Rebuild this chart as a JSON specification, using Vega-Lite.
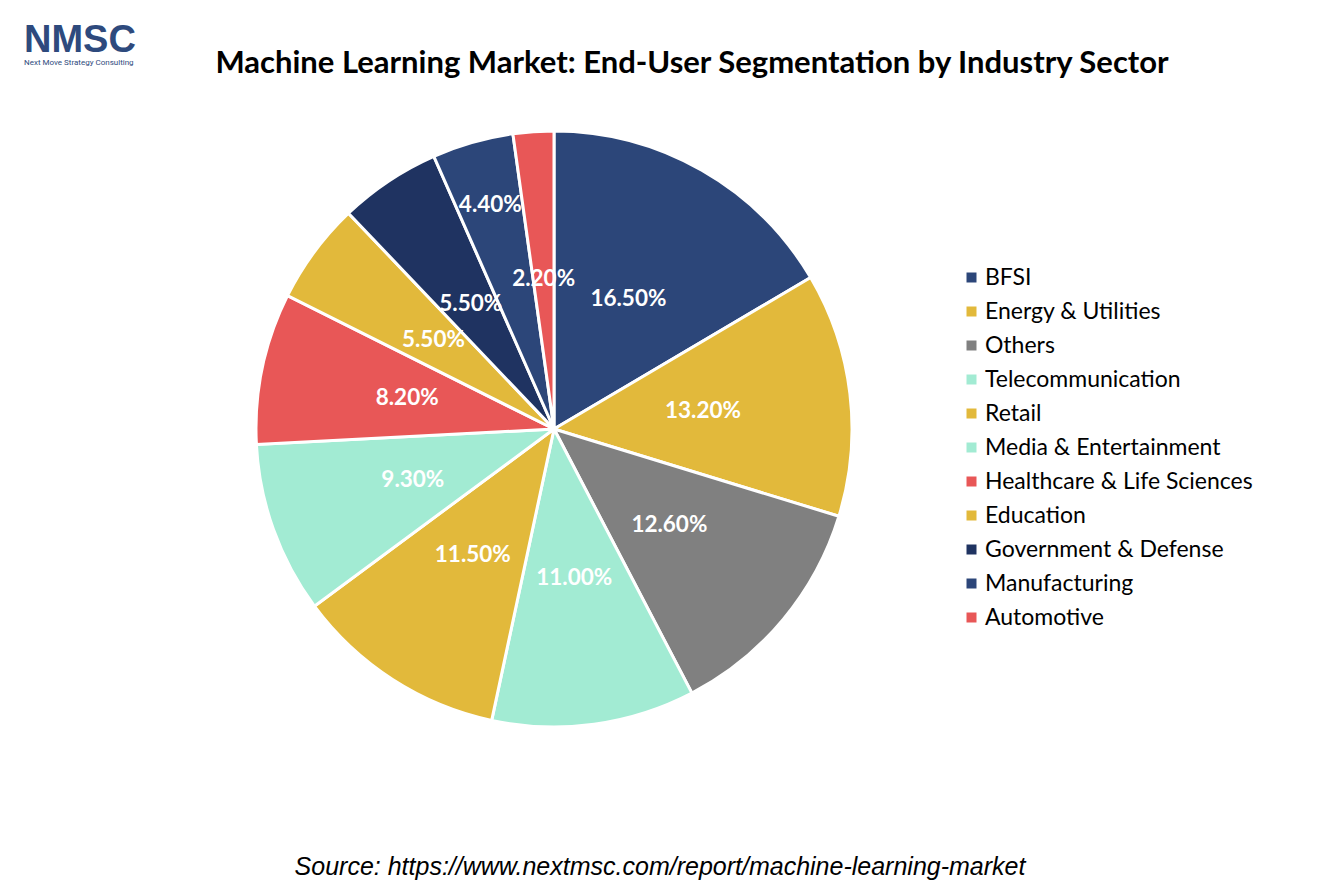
{
  "$schema": "https://vega.github.io/schema/vega-lite/v6.json",
  "description": "Machine learning market share by end-user industry sector",
  "background": "white",
  "padding": {"top": 22, "left": 5, "right": 5, "bottom": 5},
  "config": {"view": {"stroke": null}},
  "title": {
    "text": "Source: https://www.nextmsc.com/report/machine-learning-market",
    "orient": "bottom",
    "anchor": "middle",
    "font": "Liberation Sans",
    "fontStyle": "italic",
    "fontWeight": "normal",
    "fontSize": 25,
    "color": "#000000",
    "offset": 98,
    "dx": 31
  },
  "vconcat": [
    {
      "title": {
        "text": "NMSC",
        "subtitle": "Next Move Strategy Consulting",
        "orient": "top",
        "anchor": "start",
        "font": "Liberation Sans",
        "fontWeight": "bold",
        "fontSize": 38,
        "color": "#2E4A7D",
        "subtitleFont": "Roboto",
        "subtitleFontSize": 8,
        "subtitleColor": "#2E4A7D",
        "subtitlePadding": -1,
        "offset": -19,
        "dx": 19
      },
      "vconcat": [
        {
          "width": 1098,
          "height": 656,
          "title": {
            "text": "Machine Learning Market: End-User Segmentation by Industry Sector",
            "anchor": "middle",
            "font": "Lato",
            "fontWeight": "bold",
            "fontSize": 31,
            "color": "#000000",
            "offset": 10,
            "dx": 138,
            "dy": -11
          },
          "data": {
            "values": [
              {"rank": 1, "sector": "BFSI", "share": 0.165},
              {"rank": 2, "sector": "Energy & Utilities", "share": 0.132},
              {"rank": 3, "sector": "Others", "share": 0.126},
              {"rank": 4, "sector": "Telecommunication", "share": 0.11},
              {"rank": 5, "sector": "Retail", "share": 0.115},
              {"rank": 6, "sector": "Media & Entertainment", "share": 0.093},
              {"rank": 7, "sector": "Healthcare & Life Sciences", "share": 0.082},
              {"rank": 8, "sector": "Education", "share": 0.055},
              {"rank": 9, "sector": "Government & Defense", "share": 0.055},
              {"rank": 10, "sector": "Manufacturing", "share": 0.044},
              {"rank": 11, "sector": "Automotive", "share": 0.022}
            ]
          },
          "encoding": {
            "theta": {"field": "share", "type": "quantitative", "stack": true},
            "order": {"field": "rank", "type": "quantitative"}
          },
          "layer": [
            {
              "mark": {"type": "arc", "radius": 298, "stroke": "white", "strokeWidth": 3},
              "encoding": {
                "color": {
                  "field": "sector",
                  "type": "nominal",
                  "sort": null,
                  "scale": {
                    "domain": ["BFSI", "Energy & Utilities", "Others", "Telecommunication", "Retail", "Media & Entertainment", "Healthcare & Life Sciences", "Education", "Government & Defense", "Manufacturing", "Automotive"],
                    "range": ["#2C4679", "#E2B93B", "#808080", "#A2EBD3", "#E2B93B", "#A2EBD3", "#E85757", "#E2B93B", "#1F3361", "#2C4679", "#E85757"]
                  },
                  "legend": {
                    "title": null,
                    "orient": "none",
                    "legendX": 955,
                    "legendY": 165,
                    "symbolType": "square",
                    "symbolSize": 100,
                    "symbolStrokeWidth": 0,
                    "labelFont": "Lato",
                    "labelFontSize": 23,
                    "labelColor": "#000000",
                    "labelOffset": 2,
                    "rowPadding": 10,
                    "labelLimit": 400
                  }
                }
              }
            },
            {
              "mark": {"type": "text", "radius": 150, "font": "Lato", "fontWeight": "bold", "fontSize": 22.5, "color": "white"},
              "encoding": {
                "text": {
                  "condition": {"test": "datum.sector === 'Manufacturing'", "value": ""},
                  "field": "share",
                  "type": "quantitative",
                  "format": ".2%"
                }
              }
            },
            {
              "mark": {"type": "text", "radius": 233, "font": "Lato", "fontWeight": "bold", "fontSize": 22.5, "color": "white"},
              "encoding": {
                "text": {
                  "condition": {"test": "datum.sector !== 'Manufacturing'", "value": ""},
                  "field": "share",
                  "type": "quantitative",
                  "format": ".2%"
                }
              }
            }
          ]
        }
      ]
    }
  ]
}
